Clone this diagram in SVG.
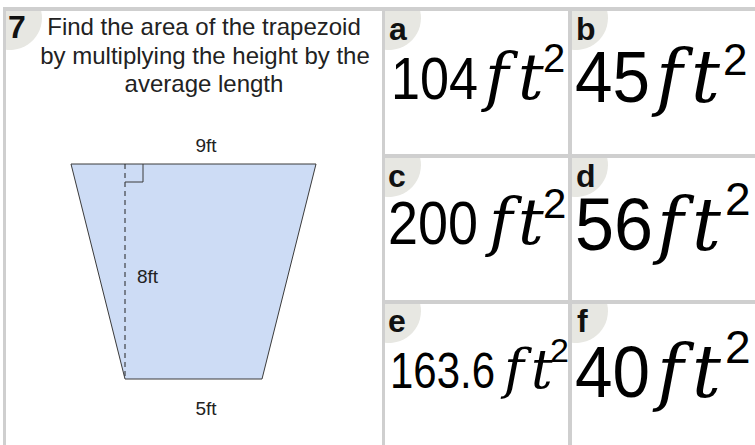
<svg xmlns="http://www.w3.org/2000/svg" width="755" height="445" viewBox="0 0 755 445">
<style>
.bd{fill:#cfcfcf}
.bg{fill:#e7e7e2}
.lbl{font-family:"Liberation Sans",Arial,sans-serif;font-weight:bold;font-size:32px;fill:#111}
.ttl{font-family:"Liberation Sans",Arial,sans-serif;font-size:24px;fill:#222;text-anchor:middle}
.dim{font-family:"Liberation Sans",Arial,sans-serif;font-size:19px;fill:#222}
.num{font-family:"Liberation Sans",Arial,sans-serif;fill:#000}
.it{font-family:"DejaVu Serif","Liberation Serif",serif;font-style:italic;fill:#000}
</style>
<defs>
<path id="badge" d="M0,0 H35.2 A32,32 0 0 1 0,38.75 Z"/>
</defs>
<rect width="755" height="445" fill="#fff"/>

<g id="question">
<use href="#badge" class="bg" x="6" y="11"/>
<text class="lbl" x="8" y="38" font-size="34">7</text>
<text class="ttl" x="204" y="35">Find the area of the trapezoid</text>
<text class="ttl" x="205" y="64">by multiplying the height by the</text>
<text class="ttl" x="204" y="92">average length</text>
<polygon points="71,164 316,164 262,379 125,379" fill="#cddcf5" stroke="#3a3a3a" stroke-width="1"/>
<line x1="125" y1="164" x2="125" y2="379" stroke="#222" stroke-width="1" stroke-dasharray="5,4"/>
<path d="M125,182 H143 V164" fill="none" stroke="#3a3a3a" stroke-width="1"/>
<text class="dim" x="206" y="152" text-anchor="middle">9ft</text>
<text class="dim" x="137" y="283">8ft</text>
<text class="dim" x="206" y="415" text-anchor="middle">5ft</text>
</g>

<g id="option-a">
<use href="#badge" class="bg" x="385" y="11"/>
<text class="lbl" x="389" y="40">a</text>
<text class="num" x="391" y="99" font-size="60" textLength="87" lengthAdjust="spacingAndGlyphs">104</text>
<text class="it" x="485" y="99" font-size="64">f</text>
<text class="it" x="518" y="99" font-size="64">t</text>
<text class="num" x="543" y="72" font-size="40">2</text>
</g>

<g id="option-b">
<use href="#badge" class="bg" x="572" y="11"/>
<text class="lbl" x="576" y="40">b</text>
<text class="num" x="575" y="102" font-size="72" textLength="75" lengthAdjust="spacingAndGlyphs">45</text>
<text class="it" x="656" y="102" font-size="72">f</text>
<text class="it" x="691" y="102" font-size="72">t</text>
<text class="num" x="723" y="75" font-size="44">2</text>
</g>

<g id="option-c">
<use href="#badge" class="bg" x="385" y="158"/>
<text class="lbl" x="388" y="187">c</text>
<text class="num" x="388" y="244" font-size="61" textLength="90" lengthAdjust="spacingAndGlyphs">200</text>
<text class="it" x="489" y="244" font-size="64">f</text>
<text class="it" x="518" y="244" font-size="64">t</text>
<text class="num" x="543" y="218" font-size="42">2</text>
</g>

<g id="option-d">
<use href="#badge" class="bg" x="572" y="158"/>
<text class="lbl" x="576" y="187">d</text>
<text class="num" x="575" y="250" font-size="74" textLength="78" lengthAdjust="spacingAndGlyphs">56</text>
<text class="it" x="657" y="250" font-size="72">f</text>
<text class="it" x="692" y="250" font-size="72">t</text>
<text class="num" x="725" y="215" font-size="46">2</text>
</g>

<g id="option-e">
<use href="#badge" class="bg" x="385" y="304"/>
<text class="lbl" x="388" y="332">e</text>
<text class="num" x="390" y="388" font-size="50" textLength="105" lengthAdjust="spacingAndGlyphs">163.6</text>
<text class="it" x="504" y="388" font-size="54">f</text>
<text class="it" x="531" y="388" font-size="54">t</text>
<text class="num" x="550" y="362" font-size="34">2</text>
</g>

<g id="option-f">
<use href="#badge" class="bg" x="572" y="304"/>
<text class="lbl" x="577" y="332">f</text>
<text class="num" x="575" y="397" font-size="72" textLength="75" lengthAdjust="spacingAndGlyphs">40</text>
<text class="it" x="657" y="397" font-size="72">f</text>
<text class="it" x="692" y="397" font-size="72">t</text>
<text class="num" x="725" y="363" font-size="46">2</text>
</g>

<g id="grid">
<rect class="bd" x="3" y="7" width="752" height="4"/>
<rect class="bd" x="3" y="7" width="3" height="438"/>
<rect class="bd" x="382" y="7" width="3" height="438"/>
<rect class="bd" x="568" y="7" width="4" height="438"/>
<rect class="bd" x="385" y="154" width="370" height="4"/>
<rect class="bd" x="385" y="300" width="370" height="4"/>
</g>
<g id="connectors"/>
</svg>
